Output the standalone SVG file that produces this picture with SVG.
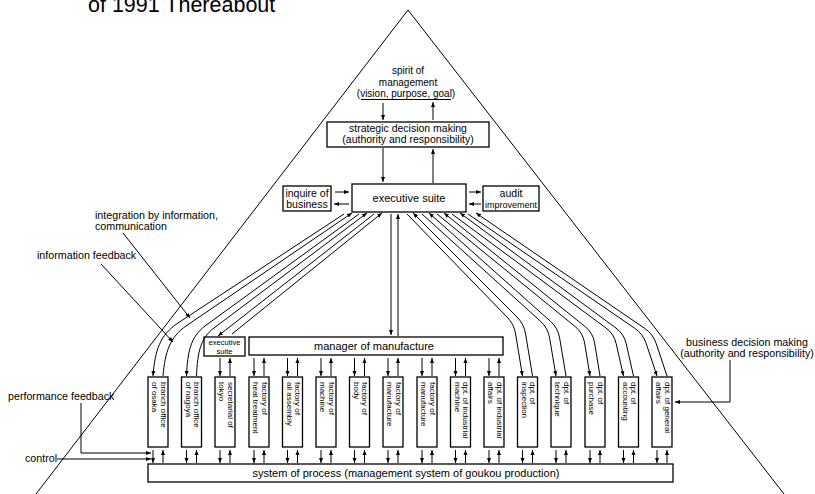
<svg xmlns="http://www.w3.org/2000/svg" width="815" height="494" viewBox="0 0 815 494">
  <defs>
    <marker id="ah" viewBox="0 0 10 10" refX="10" refY="5" markerWidth="5" markerHeight="5" markerUnits="userSpaceOnUse" orient="auto-start-reverse">
      <path d="M0,1 L10,5 L0,9 z" fill="#000"/>
    </marker>
    <style>
      .ln{fill:none;stroke:#000;stroke-width:1}
      .ar{fill:none;stroke:#000;stroke-width:1;marker-end:url(#ah)}
      .as{fill:none;stroke:#000;stroke-width:1;marker-start:url(#ah)}
      .bx{fill:#fff;stroke:#000;stroke-width:1.3}
      text{font-family:"Liberation Sans",Arial,sans-serif;fill:#000}
      .c{text-anchor:middle}
      .f11{font-size:11px}
      .f105{font-size:10.5px}
      .f10{font-size:10px}
      .an{font-size:10.7px}
      .vt{font-size:8px}
      .sm{font-size:7.6px}
    </style>
  </defs>

  <!-- heading -->
  <text x="88" y="12" font-size="21.5">of 1991 Thereabout</text>

  <!-- pyramid outline -->
  <polyline class="ln" points="36,494 408,10 784,494"/>

  <!-- top of the pyramid -->
  <g id="spirit">
    <text class="c f10" x="408" y="74">spirit of</text>
    <text class="c f10" x="408" y="85.5">management</text>
    <text class="c f10" x="406" y="97">(vision, purpose, goal)</text>
    <line class="ln" x1="361" y1="99.5" x2="451" y2="99.5"/>
  </g>

  <g id="strategic">
    <rect class="bx" x="327" y="122" width="162" height="25"/>
    <text class="c f105" x="408" y="132">strategic decision making</text>
    <text class="c f105" x="408" y="143">(authority and responsibility)</text>
  </g>

  <g id="executive">
    <rect class="bx" x="352" y="184" width="114" height="28"/>
    <text class="c f11" x="409" y="202">executive suite</text>
  </g>

  <g id="inquire">
    <rect class="bx" x="283" y="186" width="48" height="25"/>
    <text class="c f105" x="307" y="197">inquire of</text>
    <text class="c f105" x="307" y="207.5">business</text>
  </g>

  <g id="audit">
    <rect class="bx" x="483" y="186" width="56" height="25"/>
    <text class="c f105" x="511" y="197">audit</text>
    <text class="c" font-size="9" x="511" y="207.5">improvement</text>
  </g>

  <!-- middle tier -->
  <g id="exec-small">
    <rect class="bx" x="204" y="337" width="41" height="19"/>
    <text class="c sm" x="224.5" y="345">executive</text>
    <text class="c sm" x="224.5" y="353.5">suite</text>
  </g>

  <g id="manager">
    <rect class="bx" x="249" y="337" width="254" height="18"/>
    <text class="c f11" x="374" y="350">manager of manufacture</text>
  </g>

  <!-- departments -->
  <g id="dept-osaka"><rect class="bx" x="148" y="377" width="20" height="70"/>
    <text class="vt" transform="translate(160.5,382) rotate(90)">branch office</text>
    <text class="vt" transform="translate(152,382) rotate(90)">of osaka</text></g>
  <g id="dept-nagoya"><rect class="bx" x="181.5" y="377" width="20" height="70"/>
    <text class="vt" transform="translate(194,382) rotate(90)">branch office</text>
    <text class="vt" transform="translate(185.5,382) rotate(90)">of nagoya</text></g>
  <g id="dept-tokyo"><rect class="bx" x="215" y="377" width="20" height="70"/>
    <text class="vt" transform="translate(227.5,382) rotate(90)">secretarial of</text>
    <text class="vt" transform="translate(219,382) rotate(90)">tokyo</text></g>
  <g id="dept-heat"><rect class="bx" x="249" y="377" width="20" height="70"/>
    <text class="vt" transform="translate(261.5,382) rotate(90)">factory of</text>
    <text class="vt" transform="translate(253,382) rotate(90)">heat treatment</text></g>
  <g id="dept-assembly"><rect class="bx" x="282.5" y="377" width="20" height="70"/>
    <text class="vt" transform="translate(295,382) rotate(90)">factory of</text>
    <text class="vt" transform="translate(286.5,382) rotate(90)">all assembly</text></g>
  <g id="dept-machine"><rect class="bx" x="316" y="377" width="20" height="70"/>
    <text class="vt" transform="translate(328.5,382) rotate(90)">factory of</text>
    <text class="vt" transform="translate(320,382) rotate(90)">machine</text></g>
  <g id="dept-body"><rect class="bx" x="349.5" y="377" width="20" height="70"/>
    <text class="vt" transform="translate(362,382) rotate(90)">factory of</text>
    <text class="vt" transform="translate(353.5,382) rotate(90)">body</text></g>
  <g id="dept-manufacture-1"><rect class="bx" x="383" y="377" width="20" height="70"/>
    <text class="vt" transform="translate(395.5,382) rotate(90)">factory of</text>
    <text class="vt" transform="translate(387,382) rotate(90)">manufacture</text></g>
  <g id="dept-manufacture-2"><rect class="bx" x="417" y="377" width="20" height="70"/>
    <text class="vt" transform="translate(429.5,382) rotate(90)">factory of</text>
    <text class="vt" transform="translate(421,382) rotate(90)">manufacture</text></g>
  <g id="dept-ind-machine"><rect class="bx" x="450.5" y="377" width="20" height="70"/>
    <text class="vt" transform="translate(463,382) rotate(90)">dpt. of industrial</text>
    <text class="vt" transform="translate(454.5,382) rotate(90)">machine</text></g>
  <g id="dept-ind-affairs"><rect class="bx" x="484" y="377" width="20" height="70"/>
    <text class="vt" transform="translate(496.5,382) rotate(90)">dpt. of industrial</text>
    <text class="vt" transform="translate(488,382) rotate(90)">affairs</text></g>
  <g id="dept-inspection"><rect class="bx" x="517.5" y="377" width="20" height="70"/>
    <text class="vt" transform="translate(530,382) rotate(90)">dpt. of</text>
    <text class="vt" transform="translate(521.5,382) rotate(90)">inspection</text></g>
  <g id="dept-technique"><rect class="bx" x="551" y="377" width="20" height="70"/>
    <text class="vt" transform="translate(563.5,382) rotate(90)">dpt. of</text>
    <text class="vt" transform="translate(555,382) rotate(90)">technique</text></g>
  <g id="dept-purchase"><rect class="bx" x="585" y="377" width="20" height="70"/>
    <text class="vt" transform="translate(597.5,382) rotate(90)">dpt. of</text>
    <text class="vt" transform="translate(589,382) rotate(90)">purchase</text></g>
  <g id="dept-accounting"><rect class="bx" x="618.5" y="377" width="20" height="70"/>
    <text class="vt" transform="translate(631,382) rotate(90)">dpt. of</text>
    <text class="vt" transform="translate(622.5,382) rotate(90)">accounting</text></g>
  <g id="dept-general"><rect class="bx" x="652" y="377" width="20" height="70"/>
    <text class="vt" transform="translate(664.5,382) rotate(90)">dpt. of general</text>
    <text class="vt" transform="translate(656,382) rotate(90)">affairs</text></g>

  <!-- base process bar -->
  <g id="process">
    <rect class="bx" x="148" y="464" width="525" height="18"/>
    <text class="c f11" x="406" y="477">system of process (management system of goukou production)</text>
  </g>

  <!-- side notes -->
  <g id="notes">
    <text class="an" x="95" y="219">integration by information,</text>
    <text class="an" x="95" y="229.5">communication</text>
    <text class="an" x="37" y="259">information feedback</text>
    <text class="an" x="8" y="400">performance feedback</text>
    <text class="an" x="25" y="462">control</text>
    <text class="c an" x="747" y="346">business decision making</text>
    <text class="c an" x="747" y="356.5">(authority and responsibility)</text>
  </g>

  <g id="connectors">
    <!-- spirit / strategic / executive -->
    <path class="ar" d="M383,103 V120"/>
    <path class="ar" d="M433,120 V102"/>
    <path class="ar" d="M383,148 V182"/>
    <path class="ar" d="M433,183 V149"/>
    <!-- executive side boxes -->
    <path class="ar" d="M335,192 H349"/>
    <path class="ar" d="M349,204 H334"/>
    <path class="ar" d="M469,192 H481"/>
    <path class="ar" d="M481,204 H469"/>
    <!-- executive to manager of manufacture -->
    <path class="ar" d="M391,214 V335"/>
    <path class="ar" d="M398,336 V214"/>

    <!-- left fan: branch offices and secretarial executive suite -->
    <path class="as" d="M153,376 C155,350 160,335 178,323 L344,214"/>
    <path class="ar" d="M163,376 C165,352 170,337 186,326 L352,213"/>
    <path class="as" d="M186.5,376 C187.5,352 190.5,337 205,326 L359,214"/>
    <path class="ar" d="M196.5,376 C197.5,352 200.5,338 214,328 L367,213"/>
    <path class="as" d="M218,336 L374,214"/>
    <path class="ar" d="M232,334 L382,213"/>

    <!-- right fan: staff departments -->
    <path class="ar" d="M407,214 L507,317 Q514,324 515.6,334 L522.5,376"/>
    <path class="ar" d="M532.5,376 L525.6,334 Q524,324 517,317 L413,213"/>
    <path class="ar" d="M422,214 L540.6,321.3 Q548,328 549.6,337.9 L556,376"/>
    <path class="ar" d="M566,376 L559.6,337.9 Q558,328 550.5,321.3 L429,213"/>
    <path class="ar" d="M437,214 L575.3,326.7 Q583,333 584.6,342.9 L590,376"/>
    <path class="ar" d="M600,376 L594.6,342.9 Q593,333 585.2,326.7 L444,213"/>
    <path class="ar" d="M452,214 L606,328 Q614,334 616.2,343.7 L623.5,376"/>
    <path class="ar" d="M633.5,376 L626.2,343.7 Q624,334 616,328.1 L460,213"/>
    <path class="ar" d="M468,214 L634.8,328.3 Q643,334 646.2,343.5 L657,376"/>
    <path class="ar" d="M667,376 L656.2,343.5 Q653,334 644.7,328.4 L476,213"/>

    <!-- manager / executive suite to line departments -->
    <path class="ar" d="M220,358 V376"/><path class="ar" d="M230,376 V358"/>
    <path class="ar" d="M254,358 V376"/><path class="ar" d="M264,376 V358"/>
    <path class="ar" d="M287.5,358 V376"/><path class="ar" d="M297.5,376 V358"/>
    <path class="ar" d="M321,358 V376"/><path class="ar" d="M331,376 V358"/>
    <path class="ar" d="M354.5,358 V376"/><path class="ar" d="M364.5,376 V358"/>
    <path class="ar" d="M388,358 V376"/><path class="ar" d="M398,376 V358"/>
    <path class="ar" d="M422,358 V376"/><path class="ar" d="M432,376 V358"/>
    <path class="ar" d="M455.5,358 V376"/><path class="ar" d="M465.5,376 V358"/>
    <path class="ar" d="M489,358 V376"/><path class="ar" d="M499,376 V358"/>

    <!-- departments to process bar -->
    <path class="ar" d="M153,450 V463"/><path class="ar" d="M163,463 V450"/>
    <path class="ar" d="M186.5,450 V463"/><path class="ar" d="M196.5,463 V450"/>
    <path class="ar" d="M220,450 V463"/><path class="ar" d="M230,463 V450"/>
    <path class="ar" d="M254,450 V463"/><path class="ar" d="M264,463 V450"/>
    <path class="ar" d="M287.5,450 V463"/><path class="ar" d="M297.5,463 V450"/>
    <path class="ar" d="M321,450 V463"/><path class="ar" d="M331,463 V450"/>
    <path class="ar" d="M354.5,450 V463"/><path class="ar" d="M364.5,463 V450"/>
    <path class="ar" d="M388,450 V463"/><path class="ar" d="M398,463 V450"/>
    <path class="ar" d="M422,450 V463"/><path class="ar" d="M432,463 V450"/>
    <path class="ar" d="M455.5,450 V463"/><path class="ar" d="M465.5,463 V450"/>
    <path class="ar" d="M489,450 V463"/><path class="ar" d="M499,463 V450"/>
    <path class="ar" d="M522.5,450 V463"/><path class="ar" d="M532.5,463 V450"/>
    <path class="ar" d="M556,450 V463"/><path class="ar" d="M566,463 V450"/>
    <path class="ar" d="M590,450 V463"/><path class="ar" d="M600,463 V450"/>
    <path class="ar" d="M623.5,450 V463"/><path class="ar" d="M633.5,463 V450"/>
    <path class="ar" d="M657,450 V463"/><path class="ar" d="M667,463 V450"/>

    <!-- note pointers -->
    <path class="ar" d="M123,233 L190,318"/>
    <path class="ar" d="M101,264 L173,342"/>
    <path class="ar" d="M81,403 V453 H151"/>
    <path class="ar" d="M57,459 H151"/>
    <path class="ar" d="M730,360 V402 H675"/>
  </g>
</svg>
